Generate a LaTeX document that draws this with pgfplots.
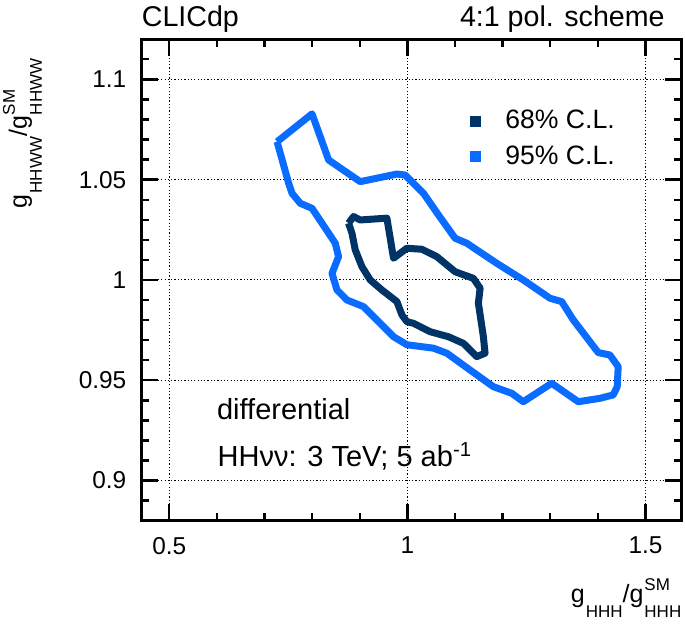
\documentclass[border=0pt]{standalone}
\usepackage{fontspec}
\setmainfont{Liberation Sans}
\usepackage{pgfplots}
\pgfplotsset{compat=1.18}
\definecolor{cl68}{RGB}{0,51,102}
\definecolor{cl95}{RGB}{10,108,255}
% ROOT-style sub/superscript
\newcommand{\sbx}[2]{\raisebox{#1}{\fontsize{8.5}{10}\selectfont #2}}

\begin{document}
\begin{tikzpicture}
\useasboundingbox (-70.75pt,-53.15pt) rectangle (271.75pt,260.35pt);
\begin{axis}[
    scale only axis,
    width=270.1pt, height=240.75pt,
    xmin=0.4417, xmax=1.576,
    ymin=0.88, ymax=1.12,
    xtick={0.5,1,1.5},
    ytick={0.9,0.95,1,1.05,1.1},
    minor xtick={0.6,0.7,0.8,0.9,1.1,1.2,1.3,1.4},
    minor ytick={0.88,0.89,0.91,0.92,0.93,0.94,0.96,0.97,0.98,0.99,
                 1.01,1.02,1.03,1.04,1.06,1.07,1.08,1.09,1.11,1.12},
    tick align=inside,
    major tick length=8.3pt, minor tick length=4pt,
    tick style={black, line width=1.2pt},
    axis line style={line width=1.5pt},
    grid=major,
    major grid style={black, line width=0.5pt, dash pattern=on 0.6pt off 1.05pt},
    /pgf/number format/assume math mode=true,
    every tick label/.append style={inner sep=0pt, font=\fontsize{12.2}{14}\selectfont},
    yticklabel style={xshift=-7.4pt},
    xticklabel style={yshift=-8pt},
    xlabel={g\kern0.5pt\sbx{-7.5pt}{HHH}/g\kern0.5pt\rlap{\sbx{6pt}{SM}}\sbx{-7.5pt}{HHH}},
    ylabel={g\kern0.5pt\sbx{-7.5pt}{HHWW}/g\kern0.5pt\rlap{\sbx{6pt}{SM}}\sbx{-7.5pt}{HHWW}},
    every axis x label/.style={at={(axis description cs:1,-0.1705)}, anchor=base east,
        inner sep=0pt, font=\fontsize{12.5}{14}\selectfont},
    every axis y label/.style={at={(axis description cs:-0.2121,0.961)}, rotate=90,
        anchor=base east, inner sep=0pt, font=\fontsize{12.5}{14}\selectfont},
    legend style={at={(axis description cs:0.608,0.853)}, anchor=north west,
        draw=none, fill=none, inner sep=0pt, row sep=7pt, column sep=12pt,
        font=\fontsize{13.3}{16}\selectfont, nodes={inner sep=0pt}},
    legend cell align=left,
    legend image code/.code={\fill[#1,draw=none] (0pt,-2.75pt) rectangle (5.5pt,2.75pt);},
]
% 68% C.L.
\addplot[color=cl68, line width=3.5pt, line join=round] coordinates {
(0.8765,1.0283) (0.8870,1.0316) (0.9010,1.0299) (0.9570,1.0308)
(0.9709,1.0108) (0.9990,1.0158) (1.0304,1.0153) (1.0619,1.0116)
(1.1002,1.0041) (1.1386,1.0008) (1.1527,0.9959) (1.1491,0.9884)
(1.1596,0.9717) (1.1631,0.9635) (1.1457,0.9618) (1.1317,0.9651)
(1.1176,0.9684) (1.0862,0.9717) (1.0478,0.9742) (1.0128,0.9784)
(0.9990,0.9792) (0.9885,0.9826) (0.9780,0.9892) (0.9465,0.9950)
(0.9220,1.0000) (0.9046,1.0066) (0.8905,1.0150) (0.8836,1.0233)
(0.8765,1.0283)
};
\addlegendentry{68\% C.L.}
% 95% C.L.
\addplot[color=cl95, line width=3.5pt, line join=round] coordinates {
(0.7264,1.0689) (0.7998,1.0828) (0.8346,1.0598) (0.8591,1.0558)
(0.9010,1.0490) (0.9780,1.0528) (0.9954,1.0523) (1.0338,1.0432)
(1.0652,1.0324) (1.1002,1.0208) (1.1248,1.0183) (1.1877,1.0083)
(1.2434,1.0000) (1.2994,0.9909) (1.3240,0.9892) (1.3483,0.9801)
(1.4007,0.9638) (1.4252,0.9626) (1.4427,0.9568) (1.4406,0.9468)
(1.4322,0.9427) (1.4043,0.9410) (1.3588,0.9393) (1.3030,0.9485)
(1.2434,0.9393) (1.2191,0.9435) (1.1805,0.9468) (1.1317,0.9551)
(1.0828,0.9635) (1.0547,0.9660) (0.9990,0.9677) (0.9709,0.9717)
(0.9430,0.9784) (0.9079,0.9867) (0.8731,0.9900) (0.8522,0.9950)
(0.8417,1.0033) (0.8555,1.0116) (0.8486,1.0183) (0.7998,1.0357)
(0.7752,1.0382) (0.7578,1.0432) (0.7507,1.0482) (0.7264,1.0689)
};
\addlegendentry{95\% C.L.}
\end{axis}
\node[anchor=base west, inner sep=0pt, font=\fontsize{14.3}{16}\selectfont] at (0pt,247pt) {CLICdp};
\node[anchor=base east, inner sep=0pt, font=\fontsize{14.3}{16}\selectfont] at (261.75pt,247pt) {4:1 pol. scheme};
\node[anchor=base west, inner sep=0pt, font=\fontsize{14.5}{16}\selectfont] at (37.6pt,50.7pt) {differential};
\node[anchor=base west, inner sep=0pt, font=\fontsize{14.5}{16}\selectfont] at (37.9pt,27pt) {HHνν: 3 TeV; 5 ab\textsuperscript{-1}};
\end{tikzpicture}
\end{document}
